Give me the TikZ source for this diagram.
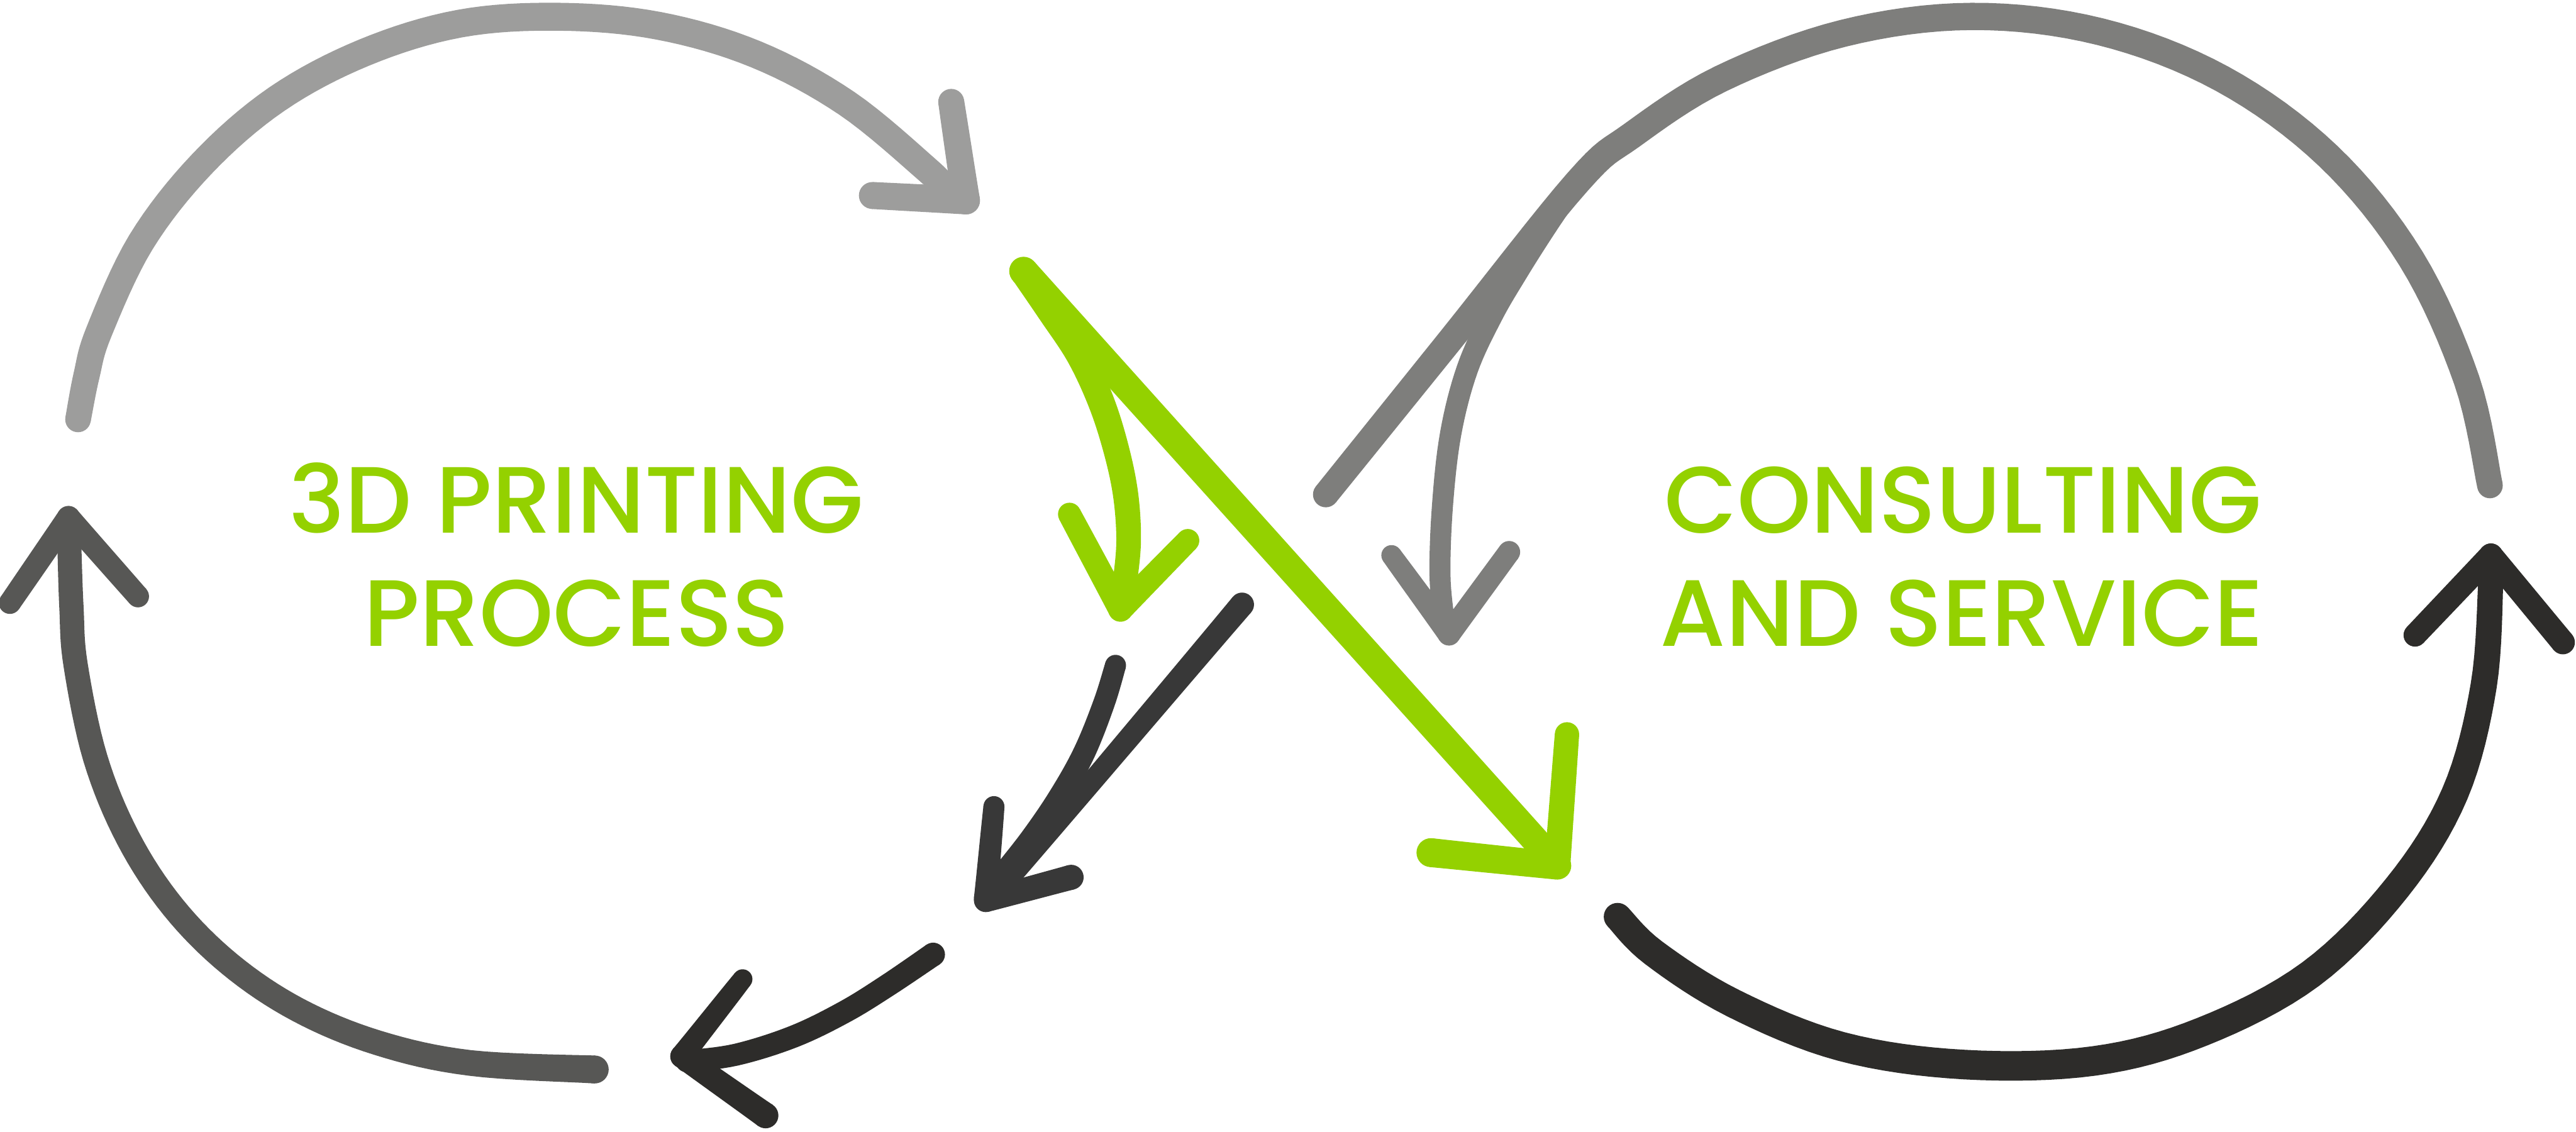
\documentclass[tikz,border=0pt]{standalone}
\usepackage{fontspec}
\setmainfont{Poppins}
\newfontfamily\lblfont{Poppins}[UprightFont=* Medium]
\definecolor{cgreen}{RGB}{148,209,0}
\definecolor{cgrayA}{RGB}{157,157,156}
\definecolor{cgrayB}{RGB}{126,126,124}
\definecolor{cgrayC}{RGB}{87,87,85}
\definecolor{cdarkA}{RGB}{56,56,56}
\definecolor{cdarkB}{RGB}{45,44,42}
\tikzset{
  lbl/.style={font=\lblfont\fontsize{69.5}{80}\selectfont, text=cgreen, anchor=base, inner sep=0pt},
}
% filled brush stroke of varying width: #1 colour, #2 list x/y/radius
\newcount\mybcnt
\newcount\mydcnt
\newcommand\mybrush[2]{%
  \global\mybcnt=0\relax
  \foreach \px/\py/\pr in {#2}{%
    \global\advance\mybcnt by 1\relax
    \expandafter\xdef\csname mybX\the\mybcnt\endcsname{\px}%
    \expandafter\xdef\csname mybY\the\mybcnt\endcsname{\py}%
    \expandafter\xdef\csname mybR\the\mybcnt\endcsname{\pr}%
  }%
  \edef\mybn{\the\mybcnt}%
  \global\mydcnt=0\relax
  \pgfmathtruncatemacro\mybnm{\mybn-1}%
  \foreach \myi in {1,...,\mybnm}{%
    \pgfmathtruncatemacro\myia{max(\myi-1,1)}%
    \pgfmathtruncatemacro\myib{\myi+1}%
    \pgfmathtruncatemacro\myic{min(\myi+2,\mybn)}%
    \edef\mqa{\csname mybX\myia\endcsname}%
    \edef\mqb{\csname mybX\myi\endcsname}%
    \edef\mqc{\csname mybX\myib\endcsname}%
    \edef\mqd{\csname mybX\myic\endcsname}%
    \edef\mwa{\csname mybY\myia\endcsname}%
    \edef\mwb{\csname mybY\myi\endcsname}%
    \edef\mwc{\csname mybY\myib\endcsname}%
    \edef\mwd{\csname mybY\myic\endcsname}%
    \edef\mra{\csname mybR\myi\endcsname}%
    \edef\mrb{\csname mybR\myib\endcsname}%
    \foreach \myt in {0,0.125,0.25,0.375,0.5,0.625,0.75,0.875}{%
      \pgfmathsetmacro\mynx{0.5*(2*\mqb+(\mqc-\mqa)*\myt+(2*\mqa-5*\mqb+4*\mqc-\mqd)*\myt*\myt+(3*\mqb-\mqa-3*\mqc+\mqd)*\myt*\myt*\myt)}%
      \pgfmathsetmacro\myny{0.5*(2*\mwb+(\mwc-\mwa)*\myt+(2*\mwa-5*\mwb+4*\mwc-\mwd)*\myt*\myt+(3*\mwb-\mwa-3*\mwc+\mwd)*\myt*\myt*\myt)}%
      \pgfmathsetmacro\mynr{\mra+(\mrb-\mra)*\myt}%
      \global\advance\mydcnt by 1\relax
      \expandafter\xdef\csname mydX\the\mydcnt\endcsname{\mynx}%
      \expandafter\xdef\csname mydY\the\mydcnt\endcsname{\myny}%
      \expandafter\xdef\csname mydR\the\mydcnt\endcsname{\mynr}%
    }%
  }%
  \global\advance\mydcnt by 1\relax
  \expandafter\xdef\csname mydX\the\mydcnt\endcsname{\csname mybX\mybn\endcsname}%
  \expandafter\xdef\csname mydY\the\mydcnt\endcsname{\csname mybY\mybn\endcsname}%
  \expandafter\xdef\csname mydR\the\mydcnt\endcsname{\csname mybR\mybn\endcsname}%
  \edef\mydn{\the\mydcnt}%
  \gdef\mybL{}\gdef\mybRt{}%
  \foreach \myi in {1,...,\mydn}{%
    \pgfmathtruncatemacro\myia{max(\myi-1,1)}%
    \pgfmathtruncatemacro\myib{min(\myi+1,\mydn)}%
    \edef\mydx{\csname mydX\myib\endcsname-(\csname mydX\myia\endcsname)}%
    \edef\mydy{\csname mydY\myib\endcsname-(\csname mydY\myia\endcsname)}%
    \pgfmathsetmacro\myang{atan2(\mydy,\mydx)}%
    \edef\mycx{\csname mydX\myi\endcsname}%
    \edef\mycy{\csname mydY\myi\endcsname}%
    \edef\myrr{\csname mydR\myi\endcsname}%
    \pgfmathsetmacro\mylx{\mycx-\myrr*sin(\myang)}%
    \pgfmathsetmacro\myly{\mycy+\myrr*cos(\myang)}%
    \pgfmathsetmacro\myrx{\mycx+\myrr*sin(\myang)}%
    \pgfmathsetmacro\myry{\mycy-\myrr*cos(\myang)}%
    \xdef\mybL{\mybL(\mylx,\myly) }%
    \xdef\mybRt{(\myrx,\myry) \mybRt}%
  }%
  \edef\mybcmd{\noexpand\fill[#1] plot coordinates {\mybL} -- plot coordinates {\mybRt} -- cycle;}%
  \mybcmd
  \edef\mycapx{\csname mybX1\endcsname}\edef\mycapy{\csname mybY1\endcsname}\edef\mycapr{\csname mybR1\endcsname}%
  \fill[#1] plot[samples=33, domain=0:360, variable=\myu] ({\mycapx+\mycapr*cos(\myu)},{\mycapy+\mycapr*sin(\myu)}) -- cycle;
  \edef\mycapx{\csname mybX\mybn\endcsname}\edef\mycapy{\csname mybY\mybn\endcsname}\edef\mycapr{\csname mybR\mybn\endcsname}%
  \fill[#1] plot[samples=33, domain=0:360, variable=\myu] ({\mycapx+\mycapr*cos(\myu)},{\mycapy+\mycapr*sin(\myu)}) -- cycle;
}
\begin{document}
\begin{tikzpicture}[x=0.042564cm, y=-0.042564cm]
\path[use as bounding box] (0,0) rectangle (1568,689);

% top-left light gray arc
\mybrush{cgrayA}{47.5/255.3/7.8, 52.7/228.4/8, 60.3/201.8/8.1, 85.8/147.4/8.3, 122.8/99.9/8.4, 168.4/60.4/8.5, 221.7/32/8.5, 279.7/14.4/8.5, 340.1/10.2/8.5, 400.9/15.7/8.5, 460.2/33.1/8.4, 515.3/62.8/8.3, 564.4/103.3/8.2, 574.2/113.9/8.2}
\mybrush{cgrayA}{579/62/7.9, 588/122/8.5}
\mybrush{cgrayA}{588/122/8.5, 531/119/8.2}

% left arc
\mybrush{cgrayC}{42/318/7.2, 42.3/335/7.3, 43.5/370/7.4, 46/404.6/7.4, 58/461.4/7.5, 78/510.3/7.5, 105.4/552.2/7.5, 140/587/7.5, 181.4/614.7/7.5, 230/634.8/7.6, 286/647/7.8, 362/651/8.5}
\mybrush{cgrayC}{41.7/315/7, 6/367/6.7}
\mybrush{cgrayC}{41.7/315/7, 84/363/6.7}

% lower dark arrow
\mybrush{cdarkB}{568/581/7.2, 540/600/7, 514/616/6.9, 483/631/6.8, 448/642/6.7, 418/646/6.7}
\mybrush{cdarkB}{415/643/7, 452/596/6}
\mybrush{cdarkB}{415/643/7, 466/679/7.8}

% middle dark arrow
\mybrush{cdarkA}{756/368/7.3, 612/538/5.8}
\mybrush{cdarkA}{679/405/6.4, 672/428/6.6, 660/458/6.8, 645/485/6.9, 628/510/6.9, 610/533/6.9, 600/546/6.9}
\mybrush{cdarkA}{605/491/6.4, 600/547/7.2}
\mybrush{cdarkA}{600/548/7.2, 652/534/7.6}

% green arrows
\mybrush{cgreen}{623/165/8.7, 944/522/8.3}
\mybrush{cgreen}{623/165/8.5, 640/190/8.4, 657/216/8.2, 670/244/8.1, 679/272/7.9, 685/300/7.7, 687/328/7.5, 685/352/7.4, 682/370/7.3}
\mybrush{cgreen}{651/313/7, 682/371/7.4}
\mybrush{cgreen}{682/371/7.4, 723/329/7}
\mybrush{cgreen}{953.8/447/7.4, 948/526/7.9}
\mybrush{cgreen}{948/527/8.4, 871/519/8.8}

% top-right gray arc
\mybrush{cgrayB}{807/301/7.8, 883.6/206/8, 960.2/110.8/8.2, 993.2/82.4/8.3, 1047.5/47.9/8.3, 1121.8/20.3/8.3, 1200/10/8.3, 1278.4/19.3/8.3, 1352.5/47.9/8.3, 1417.1/94.9/8.3, 1467.6/157.5/8.2, 1501.4/231.3/8, 1515.6/295.5/7.8}
\mybrush{cgrayB}{952/121/7, 938/142/7, 923/166/6.9, 908/192/6.8, 893/225/6.6, 883/264/6.5, 878/308/6.4, 876.5/350/6.4, 879/378/6.4}
\mybrush{cgrayB}{847/338/6.2, 882/386/6.9}
\mybrush{cgrayB}{882/386/6.9, 918.6/336/6.7}

% bottom-right dark arc
\mybrush{cdarkB}{984.6/558/8.4, 1006.6/580/8.6, 1054.9/610.6/8.8, 1120.8/637/8.9, 1195.5/648/9, 1274.6/645.8/9, 1340.5/628/8.9, 1406.4/593/8.8, 1459/540.3/8.6, 1494.2/483.2/8.3, 1511.8/417.3/8, 1516.2/351.4/7.6, 1516.5/340/7.4}
\mybrush{cdarkB}{1516.2/338/7.2, 1470/386.6/7}
\mybrush{cdarkB}{1516.2/338/7.2, 1560/391/7.3}

% labels
\node[lbl] (t3d) at (350.8,324.6) {3D PRINTING};
\node[lbl] (tproc) at (351,393.2) {PROCESS};
\node[lbl] (tcons) at (1194.9,324.6) {CONSULTING};
\node[lbl] (tserv) at (1194.2,393.2) {AND SERVICE};
\end{tikzpicture}
\end{document}
